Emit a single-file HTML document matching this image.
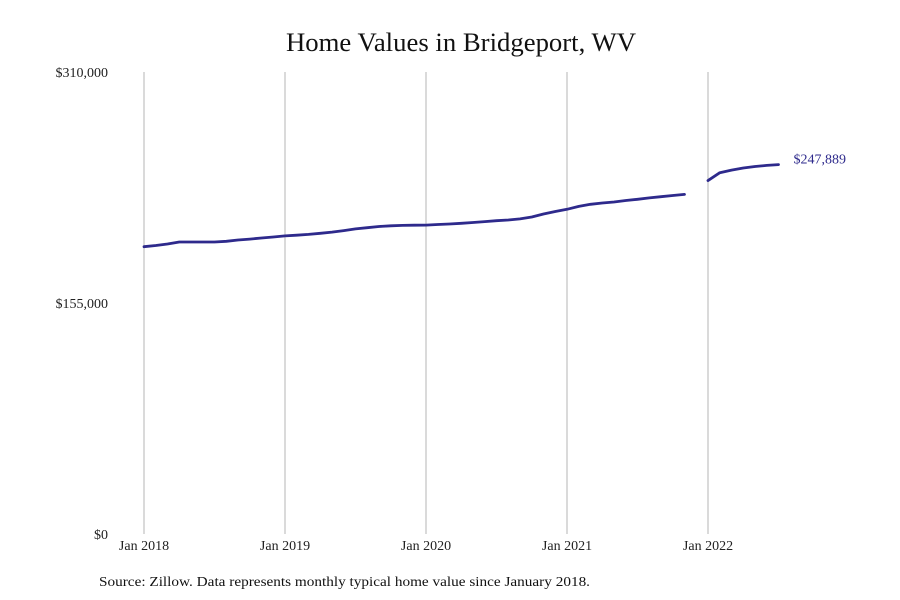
<!DOCTYPE html>
<html><head><meta charset="utf-8"><style>
body{margin:0;background:#fff;}
svg{display:block;font-family:"Liberation Serif",serif;}
</style></head><body>
<svg id="chart" width="900" height="600">
<text x="461" y="51" text-anchor="middle" font-size="26" textLength="350" lengthAdjust="spacingAndGlyphs" fill="#111">Home Values in Bridgeport, WV</text>
<g id="grid"></g>
<g id="yaxis"></g>
<g id="xaxis"></g>
<g id="series"></g>
<text x="99" y="586" font-size="14" textLength="491" lengthAdjust="spacingAndGlyphs" fill="#111">Source: Zillow. Data represents monthly typical home value since January 2018.</text>
</svg>
<script>
const values2018 = [192800,193600,194600,195900,195900,195900,195900,196400,197300,197900,198600,199300];
const values2019 = [200000,200500,201000,201800,202600,203600,204700,205500,206300,206800,207100,207200];
const values2020 = [207300,207700,208000,208500,209000,209600,210200,210700,211400,212700,214700,216400];
const values2021 = [217900,219800,221200,222100,222800,223800,224600,225500,226300,227100,227900,null];
const values2022 = [237100,242400,244200,245600,246600,247300,247889];
const yTicks = [0,155000,310000];
const yTickLabels = ["$0","$155,000","$310,000"];
const xTickLabels = ["Jan 2018","Jan 2019","Jan 2020","Jan 2021","Jan 2022"];
const lastLabel = "$247,889";

const NS="http://www.w3.org/2000/svg";
const values=[].concat(values2018,values2019,values2020,values2021,values2022);
const x0=144,x1=708,y0=534,y1=72;
const xScale=m=>x0+(x1-x0)*m/48;
const yScale=v=>y0-(y0-y1)*v/310000;
function mk(tag,attrs,parent){const e=document.createElementNS(NS,tag);for(const k in attrs)e.setAttribute(k,attrs[k]);parent.appendChild(e);return e;}
const grid=document.getElementById('grid'),xa=document.getElementById('xaxis'),ya=document.getElementById('yaxis'),ser=document.getElementById('series');
xTickLabels.forEach((l,i)=>{
  const x=xScale(i*12);
  const g=mk('line',{x1:x,x2:x,y1:y1,y2:y0,stroke:'#b5b5b5','stroke-width':1},grid);
  
  
  const t=mk('text',{x:x,y:550,'text-anchor':'middle','font-size':14,fill:'#222'},xa);
  t.textContent=l;
  
  
});
yTicks.forEach((v,i)=>{
  const t=mk('text',{x:108,y:yScale(v)+5,'text-anchor':'end','font-size':14,fill:'#222'},ya);
  t.textContent=yTickLabels[i];
  
  
});
let d='',pen=false;
values.forEach((v,i)=>{
  if(v==null){pen=false;return;}
  d+=(pen?'L':'M')+xScale(i).toFixed(1)+','+yScale(v).toFixed(1);
  pen=true;
});
const p=mk('path',{d:d,fill:'none',stroke:'#2e2a8c','stroke-width':2.8,'stroke-linejoin':'round','stroke-linecap':'round'},ser);


const li=values.length-1;
const lt=mk('text',{x:xScale(li)+15,y:yScale(values[li])-1,'font-size':14,fill:'#2e2a8c'},ser);
lt.textContent=lastLabel;


</script>
</body></html>
